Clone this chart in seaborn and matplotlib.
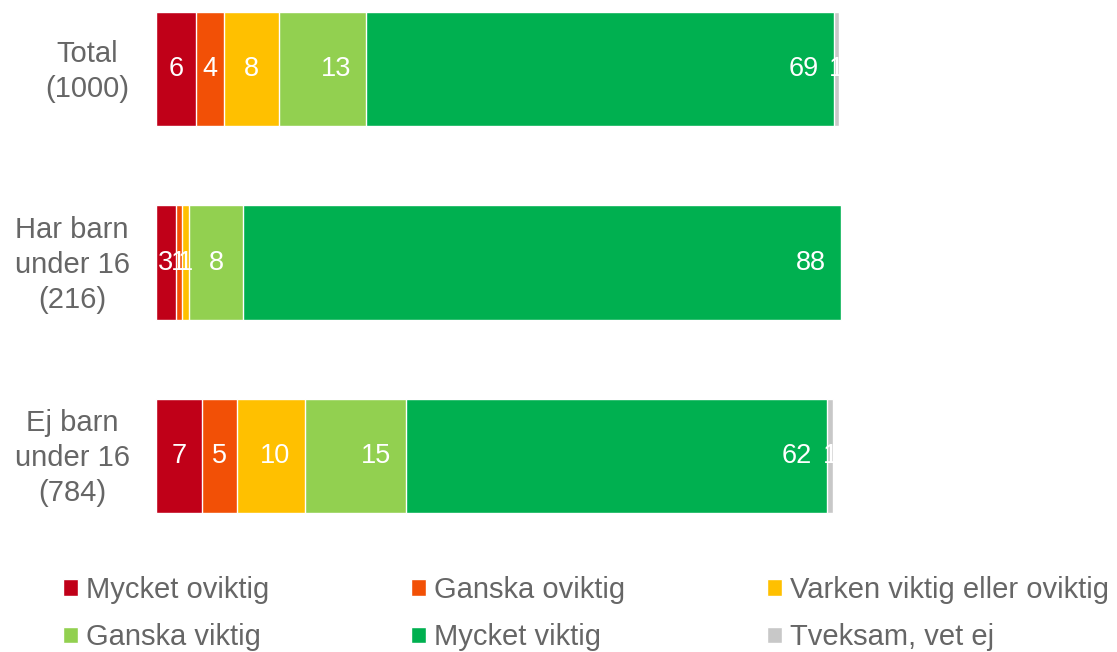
import numpy as np
import pandas as pd
import seaborn as sns
import matplotlib.pyplot as plt
from matplotlib.patches import Patch
from matplotlib.transforms import ScaledTranslation

# Data (percent)
groups = ['Total\n(1000)', 'Har barn\nunder 16\n(216)', 'Ej barn\nunder 16\n(784)']
categories = ['Mycket oviktig', 'Ganska oviktig', 'Varken viktig eller oviktig',
              'Ganska viktig', 'Mycket viktig', 'Tveksam, vet ej']
mycket_oviktig = [5.9, 2.9, 6.8]
ganska_oviktig = [4.0, 0.9, 5.1]
varken = [8.1, 1.0, 10.0]
ganska_viktig = [12.8, 8.0, 14.8]
mycket_viktig = [68.6, 87.6, 61.7]
tveksam = [0.7, 0.0, 0.9]
colors = ['#C00018', '#F25006', '#FFC000', '#92D050', '#00B050', '#C8C8C8']

sns.set_theme(style='white')
plt.rcParams['font.family'] = ['Liberation Sans', 'DejaVu Sans']
grey = '#666666'

values = np.array([mycket_oviktig, ganska_oviktig, varken,
                   ganska_viktig, mycket_viktig, tveksam]).T
cum = values.cumsum(axis=1)

fig = plt.figure(figsize=(11.17, 6.52), dpi=100)
ax = fig.add_axes([156 / 1117, 127 / 652, 6.82 * 101 / 1117, 525 / 652])

# stacked bars: draw cumulative totals from the longest down
for i in reversed(range(len(categories))):
    df = pd.DataFrame({'group': groups, 'value': cum[:, i]})
    sns.barplot(data=df, x='value', y='group', color=colors[i], orient='h',
                width=0.59, edgecolor='white', linewidth=1, saturation=1, ax=ax)

# value labels
px_unit = 6.82
for g in range(len(groups)):
    for i in range(len(categories)):
        v = values[g, i]
        if v <= 0:
            continue
        right = cum[g, i]
        left = right - v
        xpos = max(left + v / 2, right - 30 / px_unit)
        ax.text(xpos, g, f'{v:.0f}', ha='center', va='center',
                color='white', fontsize=19.5)

ax.set_xlim(0, 101)
ax.set_ylim(2.3566, -0.3566)
ax.set_xlabel('')
ax.set_ylabel('')
ax.set_xticks([])
sns.despine(ax=ax, left=True, bottom=True)
ax.tick_params(axis='y', length=0, pad=19, labelsize=21, labelcolor=grey)
nudge = ScaledTranslation(0, 3 / 72, fig.dpi_scale_trans)
for lab in ax.get_yticklabels():
    lab.set_multialignment('center')
    lab.set_linespacing(1.32)
    lab.set_transform(lab.get_transform() + nudge)

# legend, filled column-wise so rows read left to right
order = [0, 3, 1, 4, 2, 5]
handles = [Patch(facecolor=colors[k], edgecolor='white', label=categories[k]) for k in order]
fig.legend(handles=handles, ncol=3, loc='upper left',
           bbox_to_anchor=(63 / 1117, 1 - 576 / 652), frameon=False,
           fontsize=21, labelcolor=grey, handlelength=0.5, handleheight=0.5,
           handletextpad=0.3, columnspacing=4.85, labelspacing=0.66,
           borderpad=0, borderaxespad=0)

fig.savefig('out.png', dpi=100)
